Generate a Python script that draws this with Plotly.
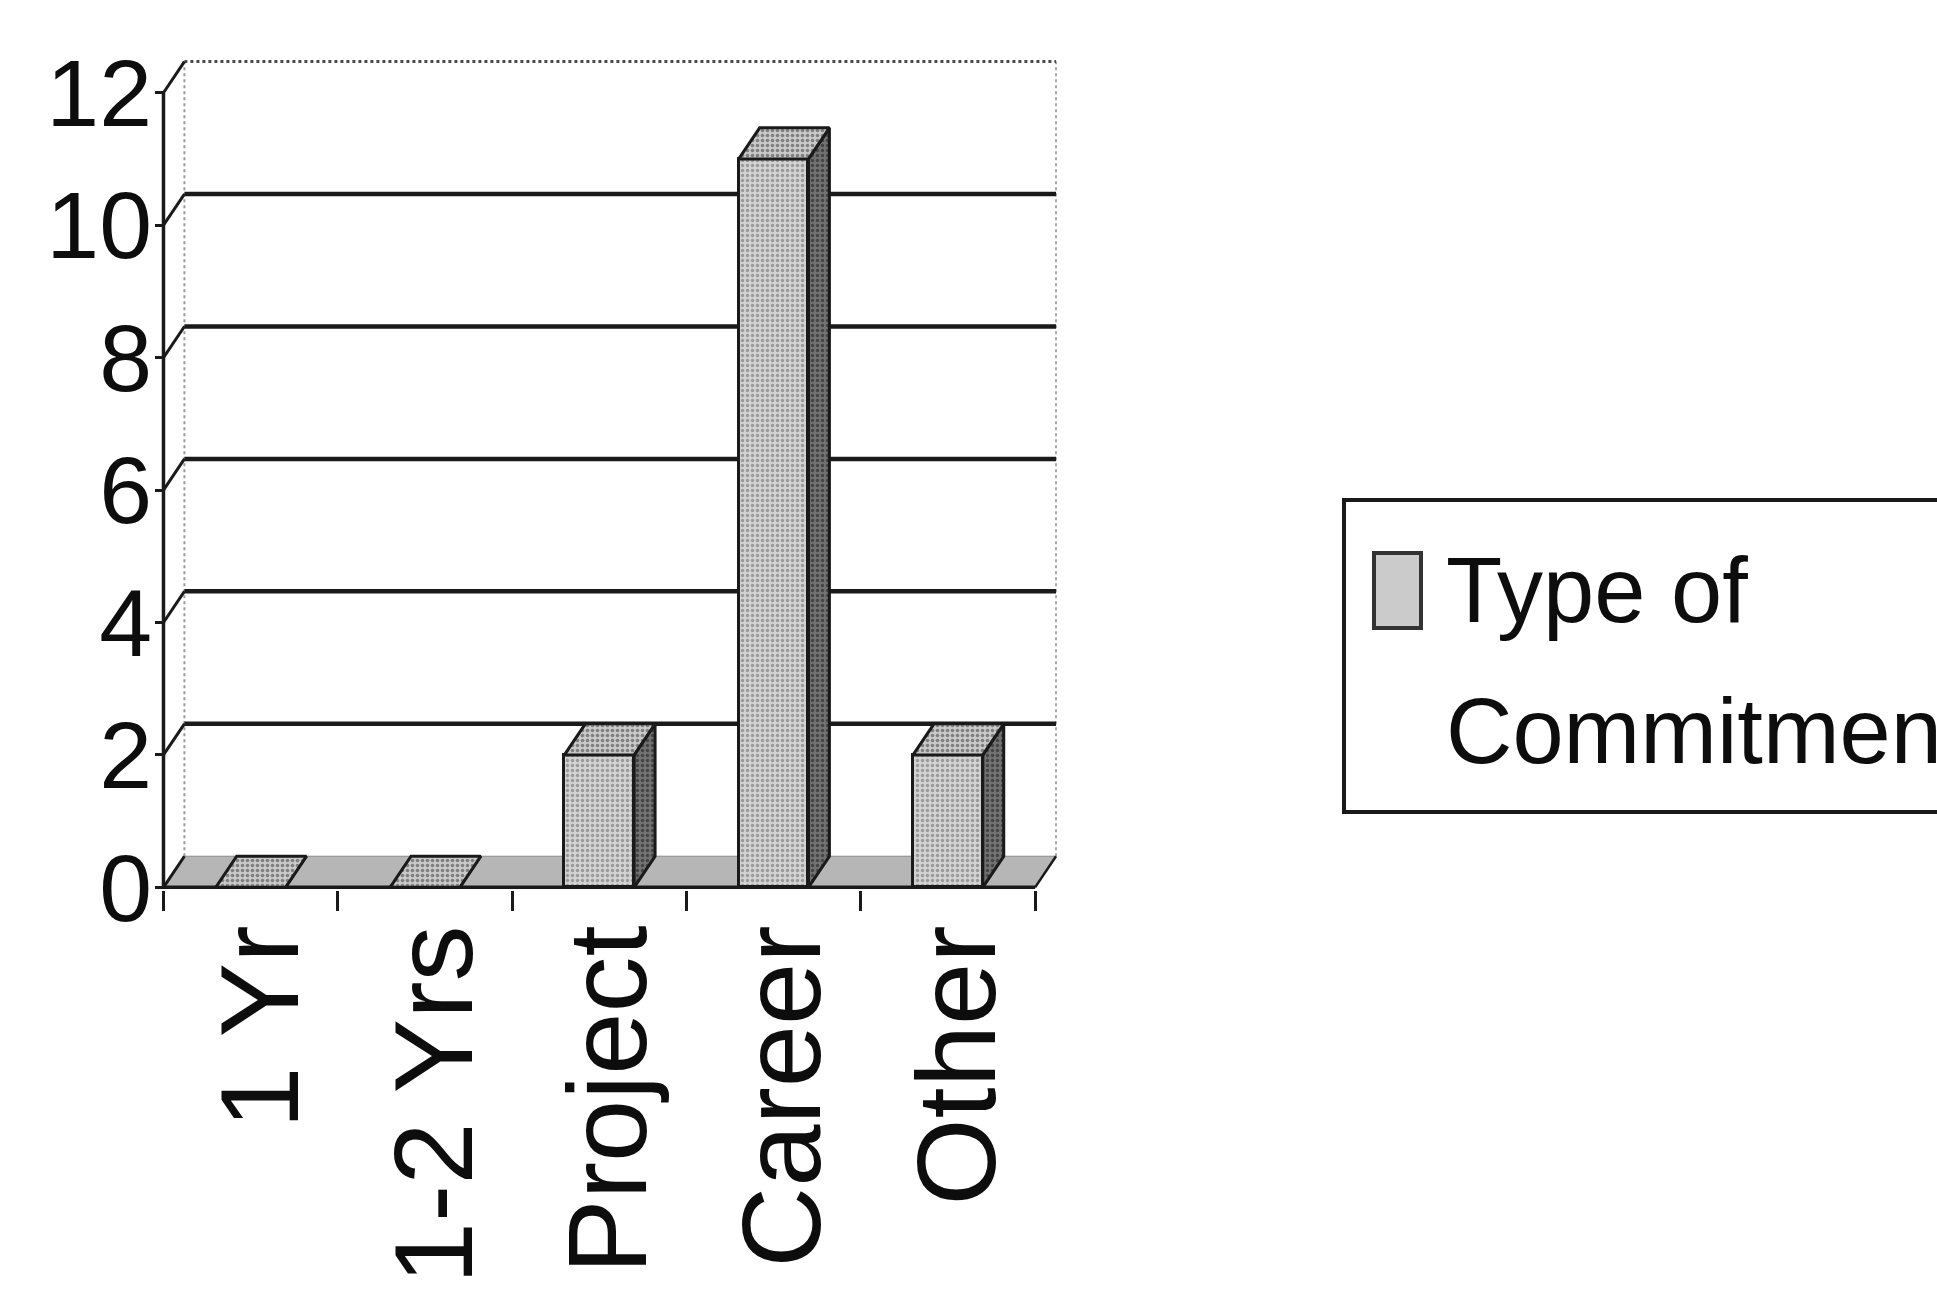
import plotly.graph_objects as go

# ---- data -------------------------------------------------------------
categories = ["1 Yr", "1-2 Yrs", "Project", "Career", "Other"]
counts = [0, 0, 2, 11, 2]
y_ticks = [0, 2, 4, 6, 8, 10, 12]
legend_lines = ["Type of", "Commitment"]

# ---- geometry of the oblique 3-D box ----------------------------------
W, H = 1937, 1302
DX = 0.12      # depth offset, category units
DY = 0.47      # depth offset, value units
BAR_W = 0.40
LABEL_SHIFT = 0.06
X_LO, X_HI = -0.5, len(categories) - 0.5
Y_TOP = y_ticks[-1]

M = dict(l=160, r=874, t=53, b=412)
PLOT_W = W - M["l"] - M["r"]
PLOT_H = H - M["t"] - M["b"]


def px_x(px):
    return (px - M["l"]) / PLOT_W


def px_y(py):
    return (H - M["b"] - py) / PLOT_H


FONT = "Liberation Sans, Arial, sans-serif"
INK = "#1a1a1a"
TEXT = "#0d0d0d"

fig = go.Figure()

shapes = []
# floor of the box
shapes.append(dict(
    type="path", layer="below", xref="x", yref="y",
    path=f"M {X_LO},0 L {X_HI},0 L {X_HI + DX},{DY} L {X_LO + DX},{DY} Z",
    fillcolor="#b6b6b6", line=dict(color="#8a8a8a", width=1)))
# back wall borders
shapes.append(dict(type="line", layer="below", xref="x", yref="y",
                   x0=X_LO + DX, y0=DY, x1=X_LO + DX, y1=Y_TOP + DY,
                   line=dict(color="#9a9a9a", width=2, dash="dot")))
shapes.append(dict(type="line", layer="below", xref="x", yref="y",
                   x0=X_HI + DX, y0=DY, x1=X_HI + DX, y1=Y_TOP + DY,
                   line=dict(color="#a8a8a8", width=2, dash="dot")))
shapes.append(dict(type="line", layer="below", xref="x", yref="y",
                   x0=X_LO + DX, y0=Y_TOP + DY, x1=X_HI + DX, y1=Y_TOP + DY,
                   line=dict(color="#4a4a4a", width=3, dash="dot")))
# gridlines on the back wall, each joined to the front axis by a slanted tick
for v in y_ticks:
    shapes.append(dict(type="line", layer="below", xref="x", yref="y",
                       x0=X_LO, y0=v, x1=X_LO + DX, y1=v + DY,
                       line=dict(color=INK, width=3)))
    if 0 < v < Y_TOP:
        shapes.append(dict(type="line", layer="below", xref="x", yref="y",
                           x0=X_LO + DX, y0=v + DY, x1=X_HI + DX, y1=v + DY,
                           line=dict(color=INK, width=4.5)))
# front axes
shapes.append(dict(type="line", layer="below", xref="x", yref="y",
                   x0=X_LO, y0=0, x1=X_LO, y1=Y_TOP,
                   line=dict(color=INK, width=3.5)))
shapes.append(dict(type="line", layer="below", xref="x", yref="y",
                   x0=X_LO, y0=0, x1=X_HI, y1=0,
                   line=dict(color=INK, width=3.5)))
shapes.append(dict(type="line", layer="below", xref="x", yref="y",
                   x0=X_HI, y0=0, x1=X_HI + DX, y1=DY,
                   line=dict(color=INK, width=2.5)))

# front faces of the columns
xs = list(range(len(categories)))
fig.add_trace(go.Bar(
    x=xs, y=counts, width=BAR_W, showlegend=False,
    marker=dict(
        color="#cecece",
        line=dict(color=INK, width=3),
        pattern=dict(shape=".", size=5, solidity=0.35,
                     fgcolor="#999999", bgcolor="#d2d2d2", fillmode="replace"),
    ),
    hoverinfo="skip",
))

# side and top faces, built from the same counts
side_x, side_y, top_x, top_y = [], [], [], []
for xi, v in zip(xs, counts):
    xl, xr = xi - BAR_W / 2, xi + BAR_W / 2
    side_x += [xr, xr + DX, xr + DX, xr, xr, None]
    side_y += [0, DY, v + DY, v, 0, None]
    top_x += [xl, xr, xr + DX, xl + DX, xl, None]
    top_y += [v, v, v + DY, v + DY, v, None]

fig.add_trace(go.Scatter(
    x=side_x, y=side_y, mode="lines", fill="toself", showlegend=False,
    fillcolor="#686868", line=dict(color=INK, width=3),
    fillpattern=dict(shape=".", size=5, solidity=0.35,
                     fgcolor="#444444", bgcolor="#727272", fillmode="replace"),
    hoverinfo="skip"))
fig.add_trace(go.Scatter(
    x=top_x, y=top_y, mode="lines", fill="toself", showlegend=False,
    fillcolor="#bdbdbd", line=dict(color=INK, width=3),
    fillpattern=dict(shape=".", size=5, solidity=0.4,
                     fgcolor="#7f7f7f", bgcolor="#c9c9c9", fillmode="replace"),
    hoverinfo="skip"))

# legend box, drawn by hand so its swatch and text scale with the chart
shapes.append(dict(type="rect", xref="paper", yref="paper",
                   x0=px_x(1344), y0=px_y(812), x1=px_x(1990), y1=px_y(500),
                   line=dict(color=INK, width=4), fillcolor="rgba(0,0,0,0)"))
shapes.append(dict(type="rect", xref="paper", yref="paper",
                   x0=px_x(1374), y0=px_y(628), x1=px_x(1421), y1=px_y(553),
                   line=dict(color="#333333", width=4), fillcolor="#cbcbcb"))

annotations = [
    dict(text=legend_lines[0], xref="paper", yref="paper",
         x=px_x(1444), y=px_y(590), xanchor="left", yanchor="middle",
         showarrow=False, font=dict(family=FONT, size=92, color=TEXT)),
    dict(text=legend_lines[1], xref="paper", yref="paper",
         x=px_x(1444), y=px_y(731), xanchor="left", yanchor="middle",
         showarrow=False, font=dict(family=FONT, size=92, color=TEXT)),
]

fig.update_layout(
    width=W, height=H,
    margin=dict(**M, autoexpand=False),
    paper_bgcolor="white", plot_bgcolor="rgba(0,0,0,0)",
    shapes=shapes, annotations=annotations,
    showlegend=False, bargap=0,
    xaxis=dict(
        range=[-0.52, 4.66], showgrid=False, zeroline=False, showline=False,
        tickmode="array", tickvals=[x + LABEL_SHIFT for x in xs],
        ticktext=categories, tickangle=-90,
        ticks="", ticklabelstandoff=12,
        tickfont=dict(family=FONT, size=112, color=TEXT),
        minor=dict(tickmode="array",
                   tickvals=[X_LO + i for i in range(len(categories) + 1)],
                   ticks="outside", ticklen=20, tickwidth=3, tickcolor=INK,
                   showgrid=False),
        fixedrange=True,
    ),
    yaxis=dict(
        range=[-0.04, 12.6], showgrid=False, zeroline=False, showline=False,
        anchor="free", position=px_x(164),
        tickmode="array", tickvals=y_ticks,
        ticks="outside", ticklen=9, tickwidth=3, tickcolor=INK,
        ticklabelstandoff=-16,
        tickfont=dict(family=FONT, size=95, color=TEXT),
        fixedrange=True,
    ),
)

fig.write_html("out.html")
